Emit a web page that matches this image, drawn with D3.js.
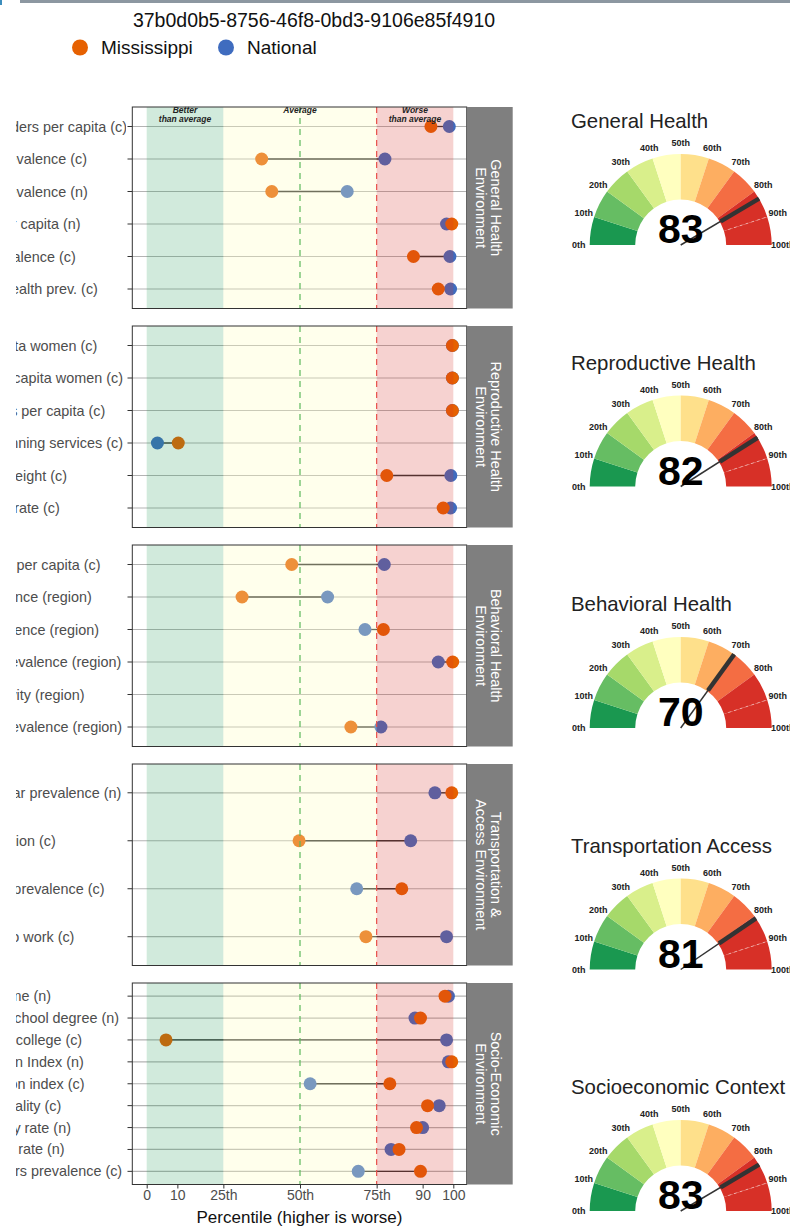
<!DOCTYPE html>
<html><head><meta charset="utf-8">
<script src="https://cdn.jsdelivr.net/npm/d3@7"></script>
<style>body{margin:0;background:#fff;overflow:hidden;} svg{display:block;font-family:"Liberation Sans",Arial,sans-serif;}</style>
</head><body><svg id="c" width="790" height="1227"></svg>
<script>
const chartTitle = "37b0d0b5-8756-46f8-0bd3-9106e85f4910";
const seriesNames = ["Mississippi", "National"];
const seriesColors = ["#e66101", "#3f6cbf"];

const panelTitles = [["General Health","Environment"],["Reproductive Health","Environment"],["Behavioral Health","Environment"],["Transportation &","Access Environment"],["Socio-Economic","Environment"]];

const generalLabels = ["Primary health providers per capita (c)","High blood sugar prevalence (c)","High blood sugar prevalence (n)","Safety-net clinics per capita (n)","Kidney disease prevalence (c)","Self-reported poor health prev. (c)"];
const generalMississippi = [92.7,37.5,40.8,99.5,87.0,95.1];
const generalNational = [98.7,77.7,65.4,97.8,98.9,99.1];

const reproductiveLabels = ["Birth doulas per capita women (c)","Nurse midwives per capita women (c)","Maternity care clinics per capita (c)","Access to family planning services (c)","Singleton low birth weight (c)","Pregnancy mortality rate (c)"];
const reproductiveMississippi = [99.7,99.7,99.7,10.3,78.3,96.7];
const reproductiveNational = [99.7,99.7,99.7,3.5,99.2,99.1];

const behavioralLabels = ["Mental health clinics per capita (c)","Tobacco use prevalence (region)","Cannabis use prevalence (region)","Major depression prevalence (region)","Adult physical inactivity (region)","Frequent distress prevalence (region)"];
const behavioralMississippi = [47.3,31.1,77.2,99.8,null,66.6];
const behavioralNational = [77.5,59.0,71.2,95.1,null,76.4];

const transportLabels = ["Household with no car prevalence (n)","No public transportation (c)","Long commute time prevalence (c)","Walking and biking to work (c)"];
const transportMississippi = [99.5,49.7,83.2,71.5];
const transportNational = [94.0,86.1,68.5,97.8];

const socioLabels = ["Median earned income (n)","Adults lacking high school degree (n)","Persons lacking any college (c)","Economic Deprivation Index (n)","Economic segregation index (c)","Family income inequality (c)","Senior citizen poverty rate (n)","Adult unemployment rate (n)","Cost-burdened renters prevalence (c)"];
const socioMississippi = [97.3,89.3,6.3,99.5,79.3,91.6,88.0,82.3,89.3];
const socioNational = [98.4,87.5,97.8,98.4,53.3,95.4,90.0,79.7,69.0];

const xTickValues = [0,10,25,50,75,90,100];
const xTickLabels = ["0","10","25th","50th","75th","90","100"];
const xAxisTitle = "Percentile (higher is worse)";
const bandLabels = [["Better","than average"],["Average"],["Worse","than average"]];
const bandEdges = [0,25,75,100];

const gaugeTitles = ["General Health","Reproductive Health","Behavioral Health","Transportation Access","Socioeconomic Context"];
const gaugeScores = [83,82,70,81,83];
const gaugeTickLabels = ["0th","10th","20th","30th","40th","50th","60th","70th","80th","90th","100th"];
const gaugeColors = ["#1a9850","#66bd63","#a6d96a","#d9ef8b","#ffffbf","#fee08b","#fdae61","#f46d43","#d73027","#d73027"];

const panels = [
  {labels: generalLabels, a: generalMississippi, b: generalNational},
  {labels: reproductiveLabels, a: reproductiveMississippi, b: reproductiveNational},
  {labels: behavioralLabels, a: behavioralMississippi, b: behavioralNational},
  {labels: transportLabels, a: transportMississippi, b: transportNational},
  {labels: socioLabels, a: socioMississippi, b: socioNational}
];

const svg = d3.select("#c");
const defs = svg.append("defs");
defs.append("clipPath").attr("id","labclip").append("rect").attr("x",16).attr("y",0).attr("width",110).attr("height",1227);

svg.append("rect").attr("x",20).attr("y",0).attr("width",770).attr("height",3).attr("fill","#8c97a1");
svg.append("rect").attr("x",0).attr("y",0).attr("width",2).attr("height",5).attr("fill","#3c8dbc");

svg.append("text").attr("x",314).attr("y",26.5).attr("text-anchor","middle").attr("font-size",19.5).attr("fill","#111").text(chartTitle);
const legX = [80, 226];
seriesNames.forEach((n,i)=>{
  svg.append("circle").attr("cx",legX[i]).attr("cy",47.5).attr("r",8).attr("fill",seriesColors[i]);
  svg.append("text").attr("x",legX[i]+21).attr("y",54).attr("font-size",19).attr("fill","#111").text(n);
});

const x = d3.scaleLinear().domain([0,100]).range([146.7,453.3]);
const panelL = 132.3, panelR = 466.7, stripW = 46, labelX = -117;
const panelTop0 = 107, panelStep = 219, panelH = 201.5;
const bandFill = ["rgb(26,152,80)","#ffffbf","rgb(215,48,39)"];
const bandOp = [0.2,0.3,0.22];
const labG = svg.append("g").attr("clip-path","url(#labclip)");

panels.forEach((p,i)=>{
  const top = panelTop0 + i*panelStep, bot = top + panelH;
  const g = svg.append("g");
  const y = d3.scalePoint().domain(p.labels).range([top,bot]).padding(0.6);
  g.append("rect").attr("x",panelL).attr("y",top).attr("width",panelR-panelL).attr("height",panelH).attr("fill","#fff");
  g.selectAll(".grid").data(p.labels).enter().append("line")
    .attr("x1",panelL).attr("x2",panelR).attr("y1",d=>y(d)).attr("y2",d=>y(d))
    .attr("stroke","#b3b3b3").attr("stroke-width",1.2);
  const rows = p.labels.map((l,k)=>({l, a:p.a[k], b:p.b[k]})).filter(r=>r.a!=null && r.b!=null);
  g.selectAll(".seg").data(rows).enter().append("line")
    .attr("x1",d=>x(d.a)).attr("x2",d=>x(d.b)).attr("y1",d=>y(d.l)).attr("y2",d=>y(d.l))
    .attr("stroke","#333").attr("stroke-width",1.3);
  g.selectAll(".pb").data(rows).enter().append("circle")
    .attr("cx",d=>x(d.b)).attr("cy",d=>y(d.l)).attr("r",6.5).attr("fill",seriesColors[1]);
  g.selectAll(".pa").data(rows).enter().append("circle")
    .attr("cx",d=>x(d.a)).attr("cy",d=>y(d.l)).attr("r",6.5).attr("fill",seriesColors[0]);
  for(let k=0;k<3;k++){
    g.append("rect").attr("x",x(bandEdges[k])).attr("y",top).attr("width",x(bandEdges[k+1])-x(bandEdges[k])).attr("height",panelH)
      .attr("fill",bandFill[k]).attr("fill-opacity",bandOp[k]);
  }
  g.append("line").attr("x1",x(50)).attr("x2",x(50)).attr("y1",top).attr("y2",bot)
    .attr("stroke","#5cb85c").attr("stroke-width",1.2).attr("stroke-dasharray","6,5");
  g.append("line").attr("x1",x(75)).attr("x2",x(75)).attr("y1",top).attr("y2",bot)
    .attr("stroke","#e8504a").attr("stroke-width",1.2).attr("stroke-dasharray","6,5");
  if(i===0){
    const cx = [12.5,50,87.5];
    bandLabels.forEach((bl,k)=>{
      bl.forEach((t,j)=>{
        g.append("text").attr("x",x(cx[k])).attr("y",top+6+j*9).attr("text-anchor","middle")
          .attr("font-size",8.5).attr("font-weight","bold").attr("font-style","italic").attr("fill","#222").text(t);
      });
    });
  }
  g.append("rect").attr("x",panelL).attr("y",top).attr("width",panelR-panelL).attr("height",panelH)
    .attr("fill","none").attr("stroke","#333").attr("stroke-width",1);
  p.labels.forEach(l=>{
    g.append("line").attr("x1",127.5).attr("x2",panelL).attr("y1",y(l)).attr("y2",y(l)).attr("stroke","#333").attr("stroke-width",1);
    labG.append("text").attr("x",labelX).attr("y",y(l)).attr("dy","0.35em").attr("text-anchor","start")
      .attr("font-size",14.4).attr("fill","#4d4d4d").text(l);
  });
  g.append("rect").attr("x",panelR).attr("y",top).attr("width",stripW).attr("height",panelH).attr("fill","#7f7f7f");
  const sg = g.append("g").attr("transform",`translate(490.5,${(top+bot)/2}) rotate(90)`);
  panelTitles[i].forEach((t,j)=>{
    sg.append("text").attr("x",0).attr("y",j*14.8).attr("text-anchor","middle").attr("font-size",14.4).attr("fill","#fff").text(t);
  });
  if(i===panels.length-1){
    const ax = svg.append("g").attr("transform",`translate(0,${bot})`)
      .call(d3.axisBottom(x).tickValues(xTickValues).tickFormat((d,k)=>xTickLabels[k]).tickSize(4).tickPadding(2));
    ax.select(".domain").remove();
    ax.selectAll(".tick line").attr("stroke","#333");
    ax.selectAll(".tick text").attr("font-size",14).attr("fill","#4d4d4d").attr("font-family","Liberation Sans, Arial, sans-serif");
    svg.append("text").attr("x",(panelL+panelR)/2).attr("y",1223).attr("text-anchor","middle").attr("font-size",17).attr("fill","#111").text(xAxisTitle);
  }
});

const gcx = 680.7, R = 91, r0 = 45.5;
const ang = d3.scaleLinear().domain([0,100]).range([-Math.PI/2, Math.PI/2]);
const arc = d3.arc().innerRadius(r0).outerRadius(R);
gaugeTitles.forEach((t,i)=>{
  const cy = 245 + i*241.5;
  const g = svg.append("g");
  g.append("text").attr("x",571).attr("y",cy-117).attr("font-size",20.4).attr("fill","#222").text(t);
  const gg = g.append("g").attr("transform",`translate(${gcx},${cy})`);
  gaugeColors.forEach((c,k)=>{
    gg.append("path").attr("d",arc({startAngle:ang(k*10),endAngle:ang(k*10+10)})).attr("fill",c);
  });
  const a90 = ang(90);
  gg.append("line").attr("x1",Math.sin(a90)*r0*1.1).attr("y1",-Math.cos(a90)*r0*1.1)
    .attr("x2",Math.sin(a90)*R).attr("y2",-Math.cos(a90)*R)
    .attr("stroke","#fff").attr("stroke-opacity",0.6).attr("stroke-width",0.8).attr("stroke-dasharray","3,3");
  gaugeTickLabels.forEach((lb,k)=>{
    const a = ang(k*10);
    gg.append("text").attr("x",Math.sin(a)*102).attr("y",-Math.cos(a)*102+3)
      .attr("text-anchor","middle").attr("font-size",9).attr("font-weight","bold").attr("fill","#222").text(lb);
  });
  const v = gaugeScores[i], av = ang(v);
  gg.append("line").attr("x1",0).attr("y1",0).attr("x2",Math.sin(av)*R).attr("y2",-Math.cos(av)*R)
    .attr("stroke","#333").attr("stroke-width",1.5);
  gg.append("line").attr("x1",Math.sin(av)*r0*1.02).attr("y1",-Math.cos(av)*r0*1.02).attr("x2",Math.sin(av)*R).attr("y2",-Math.cos(av)*R)
    .attr("stroke","#333").attr("stroke-width",4.5);
  gg.append("text").attr("x",0).attr("y",-2).attr("text-anchor","middle").attr("font-size",41).attr("font-weight","bold").attr("fill","#000").text(v);
});
</script></body></html>
